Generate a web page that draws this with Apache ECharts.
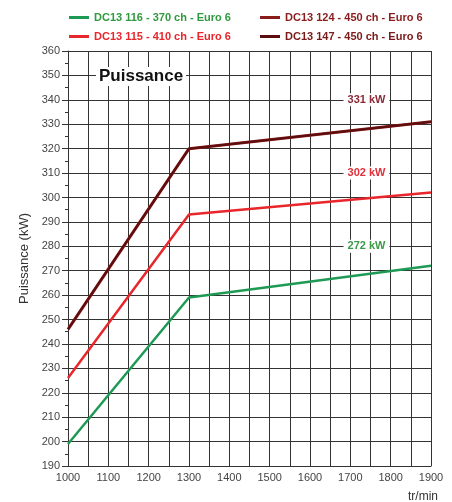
<!DOCTYPE html>
<html>
<head>
<meta charset="utf-8">
<script src="https://cdn.jsdelivr.net/npm/echarts@6/dist/echarts.min.js"></script>
<style>
  html, body { margin: 0; padding: 0; background: #fff; }
  #chart { width: 452px; height: 502px; }
</style>
</head>
<body>
<div id="chart"></div>
<script>
// régimes (tr/min)
const rpm = [1000, 1300, 1900];
// puissance (kW)
const dc13_116 = [199, 259, 272];
const dc13_115 = [226, 293, 302];
const dc13_124 = [246, 320, 331];
const dc13_147 = [246, 320, 331];
const names = ['DC13 116 - 370 ch - Euro 6', 'DC13 115 - 410 ch - Euro 6', 'DC13 124 - 450 ch - Euro 6', 'DC13 147 - 450 ch - Euro 6'];
const colors = ['#1f9a55', '#e8262b', '#8a1c1c', '#5c0d0d'];
const legendColors = ['#2f9a3f', '#e8262b', '#8a1c1c', '#7a1a1a'];
const labelColors = ['#3c9a48', '#e0303a', '#8a2a38'];

const FONT = '"Liberation Sans", Arial, sans-serif';

const chart = echarts.init(document.getElementById('chart'));

const toPairs = arr => arr.map((v, i) => [rpm[i], v]);

// étiquette de puissance max, posée sur une ligne de grille
function peakMark(value, y, color) {
  return {
    symbol: 'rect',
    symbolSize: 0,
    silent: true,
    data: [{
      coord: [1740, y],
      label: {
        show: true,
        position: 'inside',
        formatter: value + ' kW',
        color: color,
        fontFamily: FONT,
        fontWeight: 'bold',
        fontSize: 11,
        backgroundColor: '#fff',
        padding: [1, 4]
      }
    }]
  };
}

const seriesData = [dc13_116, dc13_115, dc13_124, dc13_147];
const widths = [2.5, 2.5, 3, 2];

const series = seriesData.map((d, i) => ({
  name: names[i],
  type: 'line',
  data: toPairs(d),
  symbol: 'none',
  lineStyle: { color: colors[i], width: widths[i] },
  itemStyle: { color: colors[i] },
  z: 3 + i
}));
series[0].markPoint = peakMark(dc13_116[2], 280, labelColors[0]);
series[1].markPoint = peakMark(dc13_115[2], 310, labelColors[1]);
series[2].markPoint = peakMark(dc13_124[2], 340, labelColors[2]);

const legendItem = i => ({ name: names[i], textStyle: { color: legendColors[i] } });

const option = {
  backgroundColor: '#fff',
  animation: false,
  legend: [
    {
      orient: 'vertical', left: 64, top: 7, itemGap: 8,
      icon: 'rect', itemWidth: 20, itemHeight: 3,
      textStyle: { fontFamily: FONT, fontWeight: 'bold', fontSize: 11 },
      data: [legendItem(0), legendItem(1)]
    },
    {
      orient: 'vertical', left: 255, top: 7, itemGap: 8,
      icon: 'rect', itemWidth: 20, itemHeight: 3,
      textStyle: { fontFamily: FONT, fontWeight: 'bold', fontSize: 11 },
      data: [legendItem(2), legendItem(3)]
    }
  ],
  graphic: [{
    type: 'text',
    left: 96,
    top: 67,
    z: 10,
    style: {
      text: 'Puissance',
      fontFamily: FONT,
      fontWeight: 'bold',
      fontSize: 17,
      fill: '#111',
      backgroundColor: '#fff',
      padding: [1, 3]
    }
  }],
  grid: { left: 68, right: 21, top: 51, bottom: 36, outerBoundsMode: 'none' },
  xAxis: {
    type: 'value',
    min: 1000,
    max: 1900,
    interval: 100,
    name: 'tr/min',
    nameLocation: 'end',
    nameGap: 0,
    nameTextStyle: { fontFamily: FONT, fontSize: 12, color: '#333', padding: [25, 0, 0, -23], verticalAlign: 'top' },
    axisLine: { lineStyle: { color: '#333', width: 1 } },
    axisTick: { show: false },
    axisLabel: { fontFamily: FONT, fontSize: 11, color: '#444', margin: 6, formatter: v => String(v) },
    splitLine: { show: true, lineStyle: { color: '#333', width: 1 } },
    minorTick: { show: false, splitNumber: 2 },
    minorSplitLine: { show: true, lineStyle: { color: '#333', width: 1 } }
  },
  yAxis: {
    type: 'value',
    min: 190,
    max: 360,
    interval: 10,
    name: 'Puissance (kW)',
    nameLocation: 'middle',
    nameGap: 31,
    nameTextStyle: { fontFamily: FONT, fontSize: 13, color: '#333' },
    axisLine: { show: true, lineStyle: { color: '#333', width: 1 } },
    axisTick: { show: true, length: 6, lineStyle: { color: '#333' } },
    minorTick: { show: true, splitNumber: 2, length: 3, lineStyle: { color: '#333' } },
    axisLabel: { fontFamily: FONT, fontSize: 11, color: '#444', margin: 8 },
    splitLine: { show: true, lineStyle: { color: '#333', width: 1 } }
  },
  series: series
};

chart.setOption(option);
</script>
</body>
</html>
